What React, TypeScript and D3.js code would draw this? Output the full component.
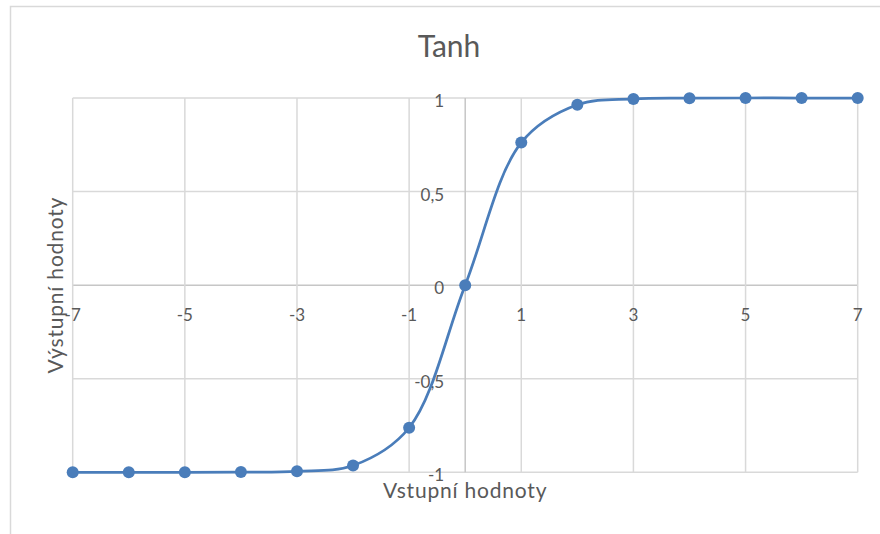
import React from "react";
import * as d3 from "d3";

// Input values and their tanh outputs
const inputs: number[] = [-7, -6, -5, -4, -3, -2, -1, 0, 1, 2, 3, 4, 5, 6, 7];
const outputs: number[] = [
  -1, -1, -1, -0.999, -0.995, -0.964, -0.762, 0, 0.762, 0.964, 0.995, 0.999, 1, 1, 1,
];
const xTicks: number[] = [-7, -5, -3, -1, 1, 3, 5, 7];
const yTicks: number[] = [-1, -0.5, 0, 0.5, 1];

const chartTitle = "Tanh";
const xTitle = "Vstupní hodnoty";
const yTitle = "Výstupní hodnoty";

const W = 880;
const H = 534;
const FONT = "Lato, 'Open Sans', sans-serif";
const TEXT = "#595959";
const GRID = "#d9d9d9";
const AXIS = "#c6c6c6";
const BLUE = "#4a7dba";

export default function App() {
  const x = d3.scaleLinear().domain([-7, 7]).range([72.7, 857.7]);
  const y = d3.scaleLinear().domain([-1, 1]).range([472.3, 98]);

  const pts = inputs.map((v, i) => [v, outputs[i]] as [number, number]);
  const line = d3
    .line<[number, number]>()
    .x((d) => x(d[0]))
    .y((d) => y(d[1]))
    .curve(d3.curveCatmullRom.alpha(0.5));

  const fmt = (v: number) => String(v).replace(".", ",");

  return (
    <svg
      width={W}
      height={H}
      style={{ position: "absolute", left: 0, top: 0, background: "#fff" }}
    >
      <rect x={10.5} y={6.5} width={W} height={H} fill="#fff" stroke={GRID} strokeWidth={1.5} />

      {/* gridlines */}
      {yTicks.map((t) => (
        <line
          key={"gy" + t}
          x1={x(-7)}
          x2={x(7)}
          y1={y(t)}
          y2={y(t)}
          stroke={t === 0 ? AXIS : GRID}
          strokeWidth={1.5}
        />
      ))}
      {xTicks.map((t) => (
        <line
          key={"gx" + t}
          x1={x(t)}
          x2={x(t)}
          y1={y(1)}
          y2={y(-1)}
          stroke={GRID}
          strokeWidth={1.5}
        />
      ))}
      <line x1={x(0)} x2={x(0)} y1={y(1)} y2={y(-1)} stroke={AXIS} strokeWidth={1.5} />

      {/* tick labels */}
      {xTicks.map((t) => (
        <text
          key={"tx" + t}
          x={x(t)}
          y={y(0) + 36}
          textAnchor="middle"
          fontFamily={FONT}
          fontSize={17}
          fill={TEXT}
        >
          {fmt(t)}
        </text>
      ))}
      {yTicks.map((t) => (
        <text
          key={"ty" + t}
          x={x(0) - 21}
          y={y(t) + 9}
          textAnchor="end"
          fontFamily={FONT}
          fontSize={17}
          fill={TEXT}
        >
          {fmt(t)}
        </text>
      ))}

      {/* series */}
      <path d={line(pts) ?? ""} fill="none" stroke={BLUE} strokeWidth={2.75} />
      {pts.map((d, i) => (
        <circle key={"p" + i} cx={x(d[0])} cy={y(d[1])} r={6} fill={BLUE} />
      ))}

      {/* titles */}
      <text
        x={449}
        y={57}
        textAnchor="middle"
        fontFamily={FONT}
        fontSize={30}
        fill={TEXT}
      >
        {chartTitle}
      </text>
      <text
        x={x(0)}
        y={498}
        textAnchor="middle"
        fontFamily={FONT}
        fontSize={21}
        letterSpacing={0.8}
        fill={TEXT}
      >
        {xTitle}
      </text>
      <text
        transform={`translate(63, ${y(0)}) rotate(-90)`}
        textAnchor="middle"
        fontFamily={FONT}
        fontSize={21}
        letterSpacing={0.8}
        fill={TEXT}
      >
        {yTitle}
      </text>
    </svg>
  );
}
